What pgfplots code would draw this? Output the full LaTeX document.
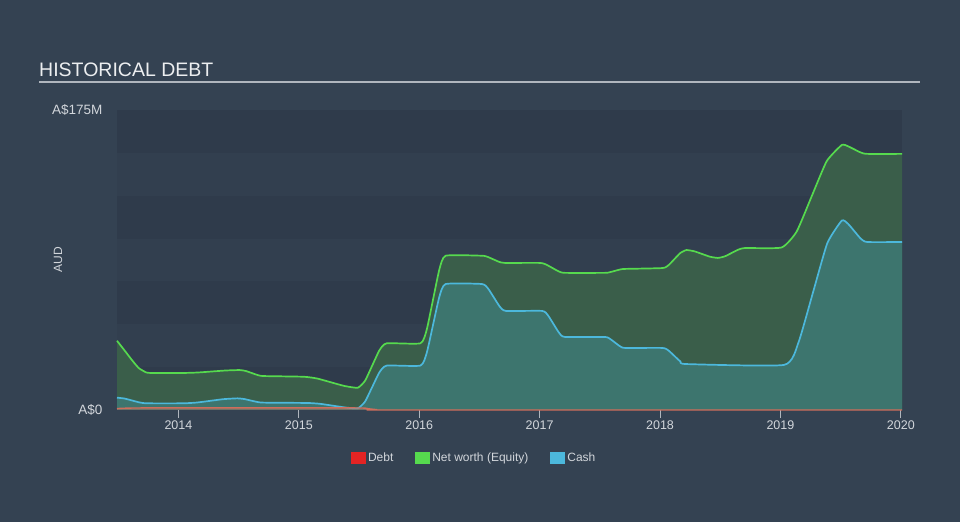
\documentclass[border=0pt]{standalone}
\usepackage{pgfplots}
\pgfplotsset{compat=1.18}
\usepackage{pgfplotstable}
\usepackage{fontspec}
\setmainfont{Liberation Sans}
\definecolor{bg}{RGB}{52,66,82}
\definecolor{banddark}{RGB}{47,59,75}
\definecolor{bandlight}{RGB}{50,63,79}
\definecolor{greenfill}{RGB}{58,94,74}
\definecolor{cashfill}{RGB}{61,117,110}
\definecolor{greenline}{RGB}{86,218,78}
\definecolor{cashline}{RGB}{76,184,220}
\definecolor{debtline}{RGB}{206,110,92}
\definecolor{debtsq}{RGB}{228,36,36}
\definecolor{txt}{RGB}{210,214,219}
\definecolor{titletxt}{RGB}{236,238,240}
\definecolor{rule}{RGB}{176,182,190}

\pgfplotstableread{
x y
2013.49 40.4
2013.55 35
2013.61 29.5
2013.67 24.5
2013.73 22
2013.77 21.6
2014.04 21.6
2014.16 21.87
2014.275 22.45
2014.39 23.03
2014.51 23.3
2014.56 22.75
2014.61 21.55
2014.66 20.35
2014.71 19.8
2015.04 19.4
2015.15 18.4
2015.265 16.2
2015.38 14.0
2015.49 13.0
2015.55 17.04
2015.61 25.95
2015.67 34.86
2015.73 38.9
2016.01 38.9
2016.0625 46.9
2016.115 64.45
2016.1675 82.0
2016.22 90
2016.52 90
2016.5675 89.34
2016.615 87.9
2016.6625 86.46
2016.71 85.8
2017.0 85.8
2017.0525 84.9
2017.105 82.9
2017.1575 80.9
2017.21 80
2017.54 80
2017.5825 80.36
2017.625 81.15
2017.6675 81.94
2017.71 82.3
2018.02 82.8
2018.07 84.44
2018.12 88.05
2018.17 91.66
2018.22 93.3
2018.285 92.58
2018.35 91.0
2018.415 89.42
2018.48 88.7
2018.5375 89.6
2018.595 91.6
2018.6525 93.6
2018.71 94.5
2019.01 94.8
2019.135 104.1
2019.26 124.7
2019.385 145.2
2019.51 154.6
2019.5625 153.8
2019.615 152.0
2019.6675 150.2
2019.72 149.4
2020.01 149.4
}\networth

\pgfplotstableread{
x y
2013.49 7.2
2013.5525 6.69
2013.615 5.55
2013.6775 4.41
2013.74 3.9
2014.04 3.9
2014.1525 4.35
2014.265 5.35
2014.3775 6.35
2014.49 6.8
2014.545 6.41
2014.6 5.55
2014.655 4.69
2014.71 4.3
2015.07 4.1
2015.175 3.62
2015.28 2.55
2015.385 1.48
2015.49 1.0
2015.55 4.89
2015.61 13.45
2015.67 22.0
2015.73 25.9
2016.01 25.9
2016.0625 33.33
2016.115 49.7
2016.1675 66.07
2016.22 73.5
2016.52 73.5
2016.57 71.05
2016.62 65.65
2016.67 60.25
2016.72 57.8
2017.02 57.8
2017.0675 55.43
2017.115 50.2
2017.1625 44.97
2017.21 42.6
2017.54 42.6
2017.5825 41.6
2017.625 39.4
2017.6675 37.2
2017.71 36.2
2018.02 36.2
2018.07 34.73
2018.12 31.5
2018.17 28.27
2018.22 26.8
2019.03 26.3
2019.15 39.4
2019.27 68.4
2019.39 97.4
2019.51 110.5
2019.5625 108.55
2019.615 104.25
2019.6675 99.95
2019.72 98
2020.01 98
}\cash

\pgfplotstableread{
x y
2013.49 0.8
2013.7 1.2
2015.45 1.2
2015.55 0.9
2015.65 0.2
2015.75 0
2020.01 0
}\debt

\begin{document}
\begin{tikzpicture}
\fill[bg] (0,0) rectangle (960bp,522bp);
\node[anchor=base west, inner sep=0pt, text=titletxt, font=\fontsize{19.5bp}{23bp}\selectfont] at (39bp,445bp) {HISTORICAL DEBT};
\draw[rule, line width=1.5bp] (39bp,440bp) -- (920bp,440bp);
\node[rotate=90, text=txt, font=\fontsize{12bp}{14bp}\selectfont] at (58bp,262bp) {AUD};
\begin{axis}[
  at={(117bp,112bp)}, anchor=south west,
  scale only axis, width=785bp, height=300bp,
  xmin=2013.49, xmax=2020.01, ymin=0, ymax=175,
  axis line style={draw=none},
  xtick={2014,2015,2016,2017,2018,2019,2020},
  xticklabels={2014,2015,2016,2017,2018,2019,2020},
  ytick={0,175},
  yticklabels={A\$0,A\$175M},
  tick align=outside, tick pos=lower,
  major tick length=8bp,
  xtick style={draw=rule, line width=0.8bp},
  ytick style={draw=none},
  xticklabel style={text=txt, font=\fontsize{12.5bp}{14bp}\selectfont, yshift=1bp},
  yticklabel style={text=txt, font=\fontsize{13.5bp}{15bp}\selectfont, xshift=-3bp},
  clip=false,
  legend style={at={(0.455,-0.16)}, anchor=center, draw=none, fill=none,
    legend columns=3, text=txt, font=\fontsize{12bp}{14bp}\selectfont,
    /tikz/every even column/.append style={column sep=20bp}},
  legend image code/.code={\fill[#1] (0bp,-6bp) rectangle (15bp,6bp);},
]
\fill[banddark] (axis cs:2013.49,150) rectangle (axis cs:2020.01,175);
\fill[bandlight] (axis cs:2013.49,125) rectangle (axis cs:2020.01,150);
\fill[banddark] (axis cs:2013.49,100) rectangle (axis cs:2020.01,125);
\fill[bandlight] (axis cs:2013.49,75) rectangle (axis cs:2020.01,100);
\fill[banddark] (axis cs:2013.49,50) rectangle (axis cs:2020.01,75);
\fill[bandlight] (axis cs:2013.49,25) rectangle (axis cs:2020.01,50);
\fill[banddark] (axis cs:2013.49,0) rectangle (axis cs:2020.01,25);

\addplot[draw=none, fill=greenfill, smooth, tension=0.3, forget plot] table {\networth} \closedcycle;
\addplot[draw=none, fill=cashfill, smooth, tension=0.3, forget plot] table {\cash} \closedcycle;
\addplot[draw=none, fill=debtline, fill opacity=0.35, forget plot] table {\debt} \closedcycle;
\addplot[greenline, line width=1.7bp, smooth, tension=0.3, forget plot] table {\networth};
\addplot[cashline, line width=1.7bp, smooth, tension=0.3, forget plot] table {\cash};
\addplot[debtline, line width=1.4bp, smooth, tension=0.3, forget plot] table {\debt};

\addlegendimage{fill=debtsq, draw=none}
\addlegendentry{Debt}
\addlegendimage{fill=greenline, draw=none}
\addlegendentry{Net worth (Equity)}
\addlegendimage{fill=cashline, draw=none}
\addlegendentry{Cash}
\end{axis}
\pgfresetboundingbox
\useasboundingbox (0,0) rectangle (960bp,522bp);
\end{tikzpicture}
\end{document}
